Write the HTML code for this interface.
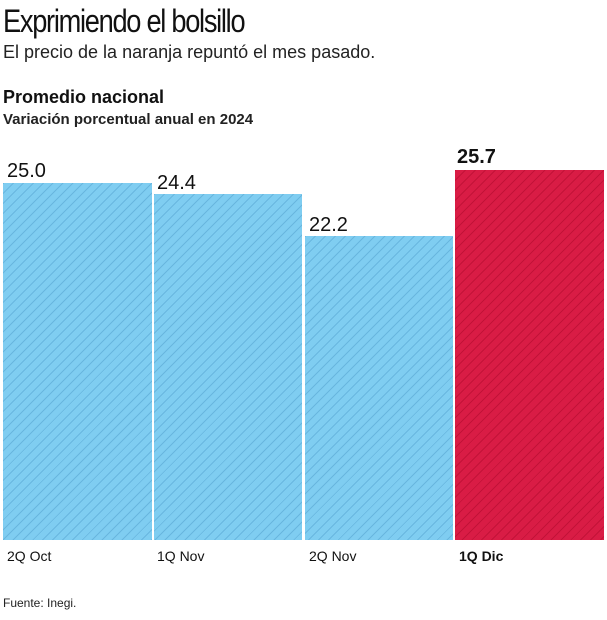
<!DOCTYPE html><html><head><style>
body{margin:0;width:607px;height:620px;background:#fff;font-family:"Liberation Sans",sans-serif;position:relative;overflow:hidden}
div{position:absolute;white-space:nowrap}
.b{background:#7fcdf1;background-image:repeating-linear-gradient(135deg,rgba(60,140,190,.35) 0 1px,transparent 1px 7px)}
.r{background:#d91c45;background-image:repeating-linear-gradient(135deg,rgba(150,0,30,.35) 0 1px,transparent 1px 7px)}
.v{font-size:20px;color:#111}
.x{font-size:14px;color:#111;top:548px}
</style></head><body>
<div style="left:3px;top:3px;font-size:32px;transform:scaleX(.85);transform-origin:left;letter-spacing:-1.5px;color:#111">Exprimiendo el bolsillo</div>
<div style="left:3px;top:42px;font-size:18px;color:#222">El precio de la naranja repuntó el mes pasado.</div>
<div style="left:3px;top:87px;font-size:18px;font-weight:bold;color:#111">Promedio nacional</div>
<div style="left:3px;top:111px;font-size:15px;font-weight:bold;color:#222">Variación porcentual anual en 2024</div>
<div class="b" style="left:3px;top:183px;width:149px;height:357px"></div>
<div class="b" style="left:154px;top:194px;width:148px;height:346px"></div>
<div class="b" style="left:305px;top:236px;width:148px;height:304px"></div>
<div class="r" style="left:455px;top:170px;width:149px;height:370px"></div>
<div class="v" style="left:7px;top:160px">25.0</div>
<div class="v" style="left:157px;top:172px">24.4</div>
<div class="v" style="left:309px;top:214px">22.2</div>
<div class="v" style="left:457px;top:146px;font-weight:bold">25.7</div>
<div class="x" style="left:7px">2Q Oct</div>
<div class="x" style="left:157px">1Q Nov</div>
<div class="x" style="left:309px">2Q Nov</div>
<div class="x" style="left:459px;font-weight:bold">1Q Dic</div>
<div style="left:3px;top:596px;font-size:12px;color:#222">Fuente: Inegi.</div>
</body></html>
